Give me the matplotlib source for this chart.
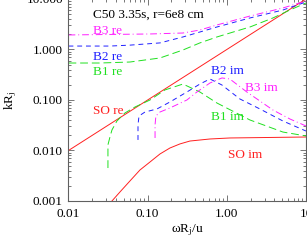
import numpy as np
import matplotlib
matplotlib.use('Agg')
import matplotlib.pyplot as plt

plt.rcParams['font.family'] = 'Liberation Serif'
plt.rcParams['mathtext.fontset'] = 'stix'

# dispersion curves
so_re_x = [0.01, 10.0]
so_re_y = [0.01, 10.0]

so_im_x = [0.0354, 0.0447, 0.0597, 0.0799, 0.107, 0.143, 0.191, 0.256, 0.342, 0.612, 1.09, 10.0]
so_im_y = [0.001, 0.00151, 0.00249, 0.00411, 0.00592, 0.00853, 0.0112, 0.0135, 0.0154, 0.0169, 0.0177, 0.0185]

b1_re_x = [0.01, 0.025, 0.0597, 0.143, 0.279, 0.457, 0.750, 1.46, 1.96, 3.82, 6.26, 10.0]
b1_re_y = [0.540, 0.540, 0.565, 0.679, 0.977, 1.35, 1.77, 2.43, 2.79, 4.21, 6.05, 8.34]

b2_re_x = [0.01, 0.0334, 0.0597, 0.143, 0.279, 0.750, 1.96, 5.11, 10.0]
b2_re_y = [1.17, 1.17, 1.22, 1.35, 1.77, 2.79, 4.21, 6.05, 8.72]

b3_re_x = [0.01, 0.107, 0.279, 0.457, 0.750, 1.96, 5.11, 10.0]
b3_re_y = [1.94, 2.03, 2.12, 2.43, 3.06, 4.60, 6.64, 9.12]

b1_im_x = [0.0315, 0.0315, 0.0334, 0.0354, 0.0409, 0.0516, 0.0691, 0.107, 0.165, 0.279, 0.457, 0.750, 1.96, 5.11, 10.0]
b1_im_y = [0.0045, 0.0129, 0.0185, 0.0255, 0.0384, 0.0553, 0.0726, 0.100, 0.158, 0.207, 0.144, 0.0872, 0.0402, 0.0232, 0.0194]

b2_im_x = [0.0755, 0.0755, 0.0777, 0.0925, 0.131, 0.191, 0.313, 0.457, 0.612, 0.868, 1.46, 2.62, 5.11, 10.0]
b2_im_y = [0.0162, 0.0320, 0.0482, 0.0578, 0.0664, 0.0912, 0.144, 0.207, 0.261, 0.198, 0.105, 0.0664, 0.0384, 0.0243]

b3_im_x = [0.124, 0.124, 0.127, 0.143, 0.191, 0.313, 0.419, 0.612, 0.868, 1.09, 1.79, 2.62, 3.82, 6.26, 10.0]
b3_im_y = [0.0177, 0.0320, 0.0482, 0.0578, 0.0695, 0.100, 0.144, 0.217, 0.273, 0.261, 0.144, 0.0955, 0.0634, 0.0421, 0.0306]

xticks = [0.01, 0.1, 1.0, 10.0]
xtick_labels = ['0.01', '0.10', '1.00', '10']
yticks = [0.001, 0.01, 0.1, 1.0, 10.0]
ytick_labels = ['0.001', '0.010', '0.100', '1.000', '10.000']

fig = plt.figure(figsize=(3.07, 2.45), dpi=100)
ax = fig.add_axes([0.2231, 0.1796, 0.7736, 0.8245])

lw = 0.7
red, green, blue, magenta = '#ff2020', '#20e020', '#2020ff', '#ff20ff'
ax.plot(so_re_x, so_re_y, color=red, lw=lw)
ax.plot(so_im_x, so_im_y, color=red, lw=lw)
ax.plot(b1_re_x, b1_re_y, color=green, lw=lw, dashes=(8, 4))
ax.plot(b1_im_x, b1_im_y, color=green, lw=lw, dashes=(8, 4))
ax.plot(b2_re_x, b2_re_y, color=blue, lw=lw, dashes=(5, 4))
ax.plot(b2_im_x, b2_im_y, color=blue, lw=lw, dashes=(5, 4))
ax.plot(b3_re_x, b3_re_y, color=magenta, lw=lw, dashes=(7, 3, 1, 3))
ax.plot(b3_im_x, b3_im_y, color=magenta, lw=lw, dashes=(7, 3, 1, 3))

ax.set_xscale('log')
ax.set_yscale('log')
ax.set_xlim(0.01, 10)
ax.set_ylim(0.001, 10)
ax.set_xticks(xticks, xtick_labels)
ax.set_yticks(yticks, ytick_labels)

axcol = '#606060'
for s in ax.spines.values():
    s.set_color(axcol)
    s.set_linewidth(0.8)
ax.tick_params(which='both', direction='in', top=True, right=True, color=axcol,
               labelsize=9.5, labelcolor='black')
ax.tick_params(which='major', length=4, width=0.6)
ax.tick_params(which='minor', length=2, width=0.6)
ax.tick_params(axis='x', pad=5)
ax.tick_params(axis='y', pad=4)

fs = 9.5
ax.text(0.0204, 4.82, 'C50 3.35s, r=6e8 cm', fontsize=fs, va='center', color='black')
ax.text(0.0204, 2.32, 'B3 re', fontsize=fs, va='center', color=magenta)
ax.text(0.0204, 0.710, 'B2 re', fontsize=fs, va='center', color=blue)
ax.text(0.0204, 0.358, 'B1 re', fontsize=fs, va='center', color=green)
ax.text(0.0204, 0.0606, 'SO re', fontsize=fs, va='center', color=red)
ax.text(0.630, 0.375, 'B2 im', fontsize=fs, va='center', color=blue)
ax.text(1.69, 0.173, 'B3 im', fontsize=fs, va='center', color=magenta)
ax.text(0.630, 0.046, 'B1 im', fontsize=fs, va='center', color=green)
ax.text(1.03, 0.00814, 'SO im', fontsize=fs, va='center', color=red)

ax.set_xlabel('ωR$_\\mathrm{j}$/u', fontsize=fs)
ax.set_ylabel('kR$_\\mathrm{j}$', fontsize=fs)
ax.xaxis.set_label_coords(0.5, -0.105)
ax.yaxis.set_label_coords(-0.208, 0.5)

fig.savefig('out.png', dpi=100)
